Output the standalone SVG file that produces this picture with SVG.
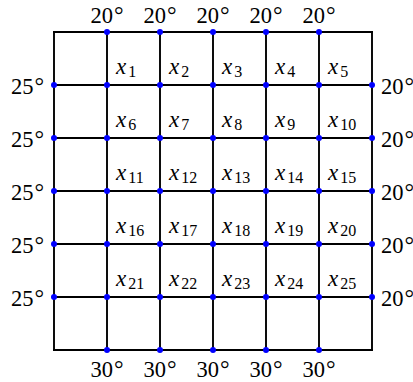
<svg xmlns="http://www.w3.org/2000/svg" width="413" height="382" viewBox="0 0 413 382">
<style>
.ln{stroke:#000;stroke-width:1.9;fill:none;stroke-linecap:square}
.dot{fill:#0000ff}
.t{font-family:"Liberation Serif",serif;font-size:22.5px;fill:#000}
.tm{text-anchor:middle}
.te{text-anchor:end}
.dg{font-size:24px}
.xl{font-family:"Liberation Serif",serif;font-size:23px;fill:#000}
.xi{font-style:italic}
.sb{font-size:16px}
</style>
<rect width="413" height="382" fill="#fff"/>
<g id="connectors">
<line class="ln" x1="54" y1="32" x2="372" y2="32"/>
<line class="ln" x1="54" y1="85" x2="372" y2="85"/>
<line class="ln" x1="54" y1="138" x2="372" y2="138"/>
<line class="ln" x1="54" y1="191" x2="372" y2="191"/>
<line class="ln" x1="54" y1="244" x2="372" y2="244"/>
<line class="ln" x1="54" y1="297" x2="372" y2="297"/>
<line class="ln" x1="54" y1="350" x2="372" y2="350"/>
<line class="ln" x1="54" y1="32" x2="54" y2="350"/>
<line class="ln" x1="107" y1="32" x2="107" y2="350"/>
<line class="ln" x1="160" y1="32" x2="160" y2="350"/>
<line class="ln" x1="213" y1="32" x2="213" y2="350"/>
<line class="ln" x1="266" y1="32" x2="266" y2="350"/>
<line class="ln" x1="319" y1="32" x2="319" y2="350"/>
<line class="ln" x1="372" y1="32" x2="372" y2="350"/>
</g>
<g id="top-boundary">
<circle class="dot" cx="107" cy="32" r="3"/><circle class="dot" cx="160" cy="32" r="3"/><circle class="dot" cx="213" cy="32" r="3"/><circle class="dot" cx="266" cy="32" r="3"/><circle class="dot" cx="319" cy="32" r="3"/>
<text class="t tm" x="107" y="23">20<tspan class="dg" dx="1">°</tspan></text><text class="t tm" x="160" y="23">20<tspan class="dg" dx="1">°</tspan></text><text class="t tm" x="213" y="23">20<tspan class="dg" dx="1">°</tspan></text><text class="t tm" x="266" y="23">20<tspan class="dg" dx="1">°</tspan></text><text class="t tm" x="319" y="23">20<tspan class="dg" dx="1">°</tspan></text>
</g>
<g id="bottom-boundary">
<circle class="dot" cx="107" cy="350" r="3"/><circle class="dot" cx="160" cy="350" r="3"/><circle class="dot" cx="213" cy="350" r="3"/><circle class="dot" cx="266" cy="350" r="3"/><circle class="dot" cx="319" cy="350" r="3"/>
<text class="t tm" x="107" y="377">30<tspan class="dg" dx="1">°</tspan></text><text class="t tm" x="160" y="377">30<tspan class="dg" dx="1">°</tspan></text><text class="t tm" x="213" y="377">30<tspan class="dg" dx="1">°</tspan></text><text class="t tm" x="266" y="377">30<tspan class="dg" dx="1">°</tspan></text><text class="t tm" x="319" y="377">30<tspan class="dg" dx="1">°</tspan></text>
</g>
<g id="left-boundary">
<circle class="dot" cx="54" cy="85" r="3"/><circle class="dot" cx="54" cy="138" r="3"/><circle class="dot" cx="54" cy="191" r="3"/><circle class="dot" cx="54" cy="244" r="3"/><circle class="dot" cx="54" cy="297" r="3"/>
<text class="t te" x="44" y="93.5">25<tspan class="dg" dx="1">°</tspan></text><text class="t te" x="44" y="146.5">25<tspan class="dg" dx="1">°</tspan></text><text class="t te" x="44" y="199.5">25<tspan class="dg" dx="1">°</tspan></text><text class="t te" x="44" y="252.5">25<tspan class="dg" dx="1">°</tspan></text><text class="t te" x="44" y="305.5">25<tspan class="dg" dx="1">°</tspan></text>
</g>
<g id="right-boundary">
<circle class="dot" cx="372" cy="85" r="3"/><circle class="dot" cx="372" cy="138" r="3"/><circle class="dot" cx="372" cy="191" r="3"/><circle class="dot" cx="372" cy="244" r="3"/><circle class="dot" cx="372" cy="297" r="3"/>
<text class="t" x="381" y="93.5">20<tspan class="dg" dx="1">°</tspan></text><text class="t" x="381" y="146.5">20<tspan class="dg" dx="1">°</tspan></text><text class="t" x="381" y="199.5">20<tspan class="dg" dx="1">°</tspan></text><text class="t" x="381" y="252.5">20<tspan class="dg" dx="1">°</tspan></text><text class="t" x="381" y="305.5">20<tspan class="dg" dx="1">°</tspan></text>
</g>
<g id="row1">
<g id="n1"><circle class="dot" cx="107" cy="85" r="3"/><text class="xl" x="116" y="74"><tspan class="xi">x</tspan><tspan class="sb" dx="2" dy="3">1</tspan></text></g>
<g id="n2"><circle class="dot" cx="160" cy="85" r="3"/><text class="xl" x="169" y="74"><tspan class="xi">x</tspan><tspan class="sb" dx="2" dy="3">2</tspan></text></g>
<g id="n3"><circle class="dot" cx="213" cy="85" r="3"/><text class="xl" x="222" y="74"><tspan class="xi">x</tspan><tspan class="sb" dx="2" dy="3">3</tspan></text></g>
<g id="n4"><circle class="dot" cx="266" cy="85" r="3"/><text class="xl" x="275" y="74"><tspan class="xi">x</tspan><tspan class="sb" dx="2" dy="3">4</tspan></text></g>
<g id="n5"><circle class="dot" cx="319" cy="85" r="3"/><text class="xl" x="328" y="74"><tspan class="xi">x</tspan><tspan class="sb" dx="2" dy="3">5</tspan></text></g>
</g>
<g id="row2">
<g id="n6"><circle class="dot" cx="107" cy="138" r="3"/><text class="xl" x="116" y="127"><tspan class="xi">x</tspan><tspan class="sb" dx="2" dy="3">6</tspan></text></g>
<g id="n7"><circle class="dot" cx="160" cy="138" r="3"/><text class="xl" x="169" y="127"><tspan class="xi">x</tspan><tspan class="sb" dx="2" dy="3">7</tspan></text></g>
<g id="n8"><circle class="dot" cx="213" cy="138" r="3"/><text class="xl" x="222" y="127"><tspan class="xi">x</tspan><tspan class="sb" dx="2" dy="3">8</tspan></text></g>
<g id="n9"><circle class="dot" cx="266" cy="138" r="3"/><text class="xl" x="275" y="127"><tspan class="xi">x</tspan><tspan class="sb" dx="2" dy="3">9</tspan></text></g>
<g id="n10"><circle class="dot" cx="319" cy="138" r="3"/><text class="xl" x="328" y="127"><tspan class="xi">x</tspan><tspan class="sb" dx="2" dy="3">10</tspan></text></g>
</g>
<g id="row3">
<g id="n11"><circle class="dot" cx="107" cy="191" r="3"/><text class="xl" x="116" y="180"><tspan class="xi">x</tspan><tspan class="sb" dx="2" dy="3">11</tspan></text></g>
<g id="n12"><circle class="dot" cx="160" cy="191" r="3"/><text class="xl" x="169" y="180"><tspan class="xi">x</tspan><tspan class="sb" dx="2" dy="3">12</tspan></text></g>
<g id="n13"><circle class="dot" cx="213" cy="191" r="3"/><text class="xl" x="222" y="180"><tspan class="xi">x</tspan><tspan class="sb" dx="2" dy="3">13</tspan></text></g>
<g id="n14"><circle class="dot" cx="266" cy="191" r="3"/><text class="xl" x="275" y="180"><tspan class="xi">x</tspan><tspan class="sb" dx="2" dy="3">14</tspan></text></g>
<g id="n15"><circle class="dot" cx="319" cy="191" r="3"/><text class="xl" x="328" y="180"><tspan class="xi">x</tspan><tspan class="sb" dx="2" dy="3">15</tspan></text></g>
</g>
<g id="row4">
<g id="n16"><circle class="dot" cx="107" cy="244" r="3"/><text class="xl" x="116" y="233"><tspan class="xi">x</tspan><tspan class="sb" dx="2" dy="3">16</tspan></text></g>
<g id="n17"><circle class="dot" cx="160" cy="244" r="3"/><text class="xl" x="169" y="233"><tspan class="xi">x</tspan><tspan class="sb" dx="2" dy="3">17</tspan></text></g>
<g id="n18"><circle class="dot" cx="213" cy="244" r="3"/><text class="xl" x="222" y="233"><tspan class="xi">x</tspan><tspan class="sb" dx="2" dy="3">18</tspan></text></g>
<g id="n19"><circle class="dot" cx="266" cy="244" r="3"/><text class="xl" x="275" y="233"><tspan class="xi">x</tspan><tspan class="sb" dx="2" dy="3">19</tspan></text></g>
<g id="n20"><circle class="dot" cx="319" cy="244" r="3"/><text class="xl" x="328" y="233"><tspan class="xi">x</tspan><tspan class="sb" dx="2" dy="3">20</tspan></text></g>
</g>
<g id="row5">
<g id="n21"><circle class="dot" cx="107" cy="297" r="3"/><text class="xl" x="116" y="286"><tspan class="xi">x</tspan><tspan class="sb" dx="2" dy="3">21</tspan></text></g>
<g id="n22"><circle class="dot" cx="160" cy="297" r="3"/><text class="xl" x="169" y="286"><tspan class="xi">x</tspan><tspan class="sb" dx="2" dy="3">22</tspan></text></g>
<g id="n23"><circle class="dot" cx="213" cy="297" r="3"/><text class="xl" x="222" y="286"><tspan class="xi">x</tspan><tspan class="sb" dx="2" dy="3">23</tspan></text></g>
<g id="n24"><circle class="dot" cx="266" cy="297" r="3"/><text class="xl" x="275" y="286"><tspan class="xi">x</tspan><tspan class="sb" dx="2" dy="3">24</tspan></text></g>
<g id="n25"><circle class="dot" cx="319" cy="297" r="3"/><text class="xl" x="328" y="286"><tspan class="xi">x</tspan><tspan class="sb" dx="2" dy="3">25</tspan></text></g>
</g>
</svg>
